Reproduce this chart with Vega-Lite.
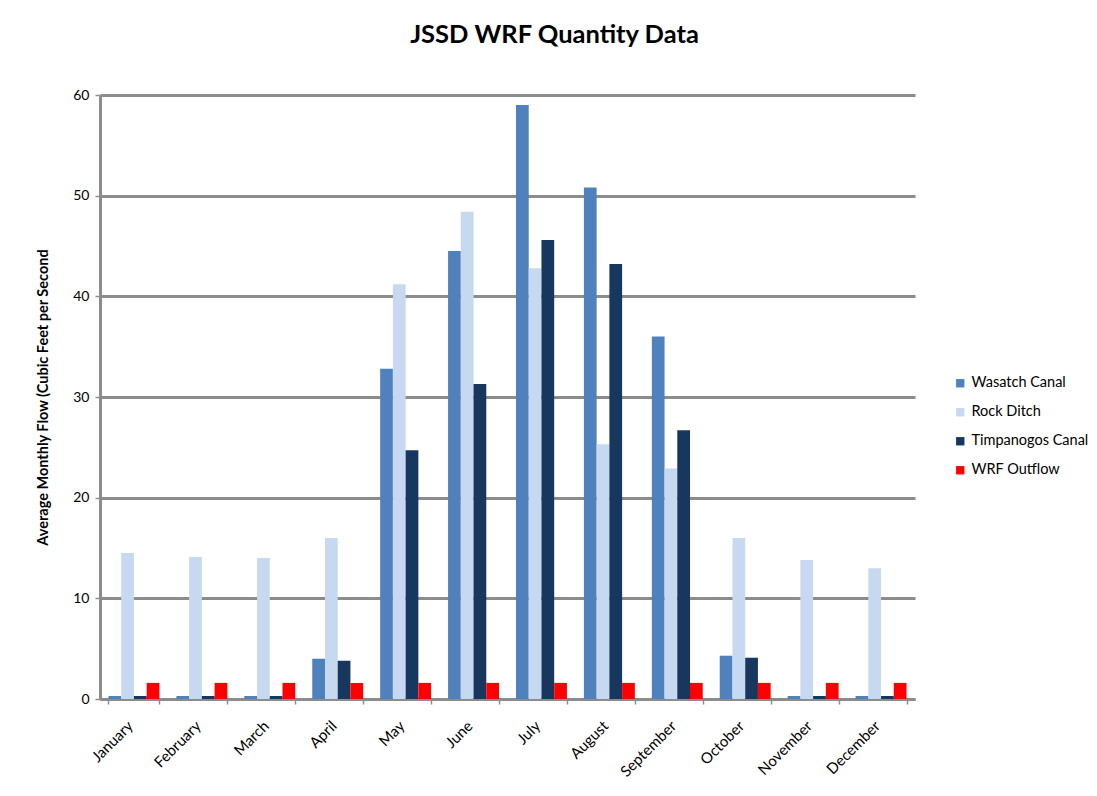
{
  "$schema": "https://vega.github.io/schema/vega-lite/v6.json",
  "autosize": "none",
  "width": 815,
  "height": 604,
  "padding": {"left": 100, "top": 95, "right": 182, "bottom": 97},
  "background": "white",
  "title": {
    "text": "JSSD WRF Quantity Data",
    "font": "Lato",
    "fontSize": 25.5,
    "fontWeight": "bold",
    "color": "#000000",
    "anchor": "middle",
    "dx": 47,
    "offset": 40
  },
  "data": {
    "values": [
      {"month": "January", "series": "Wasatch Canal", "flow": 0.3},
      {"month": "January", "series": "Rock Ditch", "flow": 14.5},
      {"month": "January", "series": "Timpanogos Canal", "flow": 0.3},
      {"month": "January", "series": "WRF Outflow", "flow": 1.6},
      {"month": "February", "series": "Wasatch Canal", "flow": 0.3},
      {"month": "February", "series": "Rock Ditch", "flow": 14.1},
      {"month": "February", "series": "Timpanogos Canal", "flow": 0.3},
      {"month": "February", "series": "WRF Outflow", "flow": 1.6},
      {"month": "March", "series": "Wasatch Canal", "flow": 0.3},
      {"month": "March", "series": "Rock Ditch", "flow": 14.0},
      {"month": "March", "series": "Timpanogos Canal", "flow": 0.3},
      {"month": "March", "series": "WRF Outflow", "flow": 1.6},
      {"month": "April", "series": "Wasatch Canal", "flow": 4.0},
      {"month": "April", "series": "Rock Ditch", "flow": 16.0},
      {"month": "April", "series": "Timpanogos Canal", "flow": 3.8},
      {"month": "April", "series": "WRF Outflow", "flow": 1.6},
      {"month": "May", "series": "Wasatch Canal", "flow": 32.8},
      {"month": "May", "series": "Rock Ditch", "flow": 41.2},
      {"month": "May", "series": "Timpanogos Canal", "flow": 24.7},
      {"month": "May", "series": "WRF Outflow", "flow": 1.6},
      {"month": "June", "series": "Wasatch Canal", "flow": 44.5},
      {"month": "June", "series": "Rock Ditch", "flow": 48.4},
      {"month": "June", "series": "Timpanogos Canal", "flow": 31.3},
      {"month": "June", "series": "WRF Outflow", "flow": 1.6},
      {"month": "July", "series": "Wasatch Canal", "flow": 59.0},
      {"month": "July", "series": "Rock Ditch", "flow": 42.8},
      {"month": "July", "series": "Timpanogos Canal", "flow": 45.6},
      {"month": "July", "series": "WRF Outflow", "flow": 1.6},
      {"month": "August", "series": "Wasatch Canal", "flow": 50.8},
      {"month": "August", "series": "Rock Ditch", "flow": 25.3},
      {"month": "August", "series": "Timpanogos Canal", "flow": 43.2},
      {"month": "August", "series": "WRF Outflow", "flow": 1.6},
      {"month": "September", "series": "Wasatch Canal", "flow": 36.0},
      {"month": "September", "series": "Rock Ditch", "flow": 22.9},
      {"month": "September", "series": "Timpanogos Canal", "flow": 26.7},
      {"month": "September", "series": "WRF Outflow", "flow": 1.6},
      {"month": "October", "series": "Wasatch Canal", "flow": 4.3},
      {"month": "October", "series": "Rock Ditch", "flow": 16.0},
      {"month": "October", "series": "Timpanogos Canal", "flow": 4.1},
      {"month": "October", "series": "WRF Outflow", "flow": 1.6},
      {"month": "November", "series": "Wasatch Canal", "flow": 0.3},
      {"month": "November", "series": "Rock Ditch", "flow": 13.8},
      {"month": "November", "series": "Timpanogos Canal", "flow": 0.3},
      {"month": "November", "series": "WRF Outflow", "flow": 1.6},
      {"month": "December", "series": "Wasatch Canal", "flow": 0.3},
      {"month": "December", "series": "Rock Ditch", "flow": 13.0},
      {"month": "December", "series": "Timpanogos Canal", "flow": 0.3},
      {"month": "December", "series": "WRF Outflow", "flow": 1.6}
    ]
  },
  "mark": {"type": "bar", "stroke": null},
  "encoding": {
    "x": {
      "field": "month",
      "type": "nominal",
      "sort": null,
      "scale": {"paddingInner": 0.25, "paddingOuter": 0.125},
      "axis": {
        "title": null,
        "labelAngle": -45,
        "labelAlign": "right",
        "labelBaseline": "middle",
        "labelFont": "Lato",
        "labelFontSize": 15,
        "labelColor": "#000000",
        "labelPadding": 19,
        "labelOffset": -4,
        "tickBand": "extent",
        "tickColor": "#8c8c8c",
        "tickSize": 5,
        "tickWidth": 1.5,
        "domainColor": "#8c8c8c",
        "domainWidth": 3
      }
    },
    "xOffset": {
      "field": "series",
      "type": "nominal",
      "sort": ["Wasatch Canal", "Rock Ditch", "Timpanogos Canal", "WRF Outflow"],
      "scale": {"paddingInner": 0, "paddingOuter": 0}
    },
    "y": {
      "field": "flow",
      "type": "quantitative",
      "scale": {"domain": [0, 60], "nice": false},
      "axis": {
        "title": "Average Monthly Flow (Cubic Feet per Second",
        "titleFont": "Lato",
        "titleFontSize": 14.5,
        "titleFontWeight": "bold",
        "titleColor": "#000000",
        "titlePadding": 22,
        "values": [0, 10, 20, 30, 40, 50, 60],
        "labelFont": "Lato",
        "labelFontSize": 14,
        "labelColor": "#000000",
        "labelPadding": 6,
        "tickColor": "#8c8c8c",
        "tickSize": 5,
        "tickWidth": 1.5,
        "domainColor": "#8c8c8c",
        "domainWidth": 3,
        "grid": true,
        "gridColor": "#8c8c8c",
        "gridWidth": 3
      }
    },
    "color": {
      "field": "series",
      "type": "nominal",
      "sort": ["Wasatch Canal", "Rock Ditch", "Timpanogos Canal", "WRF Outflow"],
      "scale": {
        "domain": ["Wasatch Canal", "Rock Ditch", "Timpanogos Canal", "WRF Outflow"],
        "range": ["#4f81bd", "#c6d9f1", "#17375e", "#ff0000"]
      },
      "legend": {
        "title": null,
        "orient": "none",
        "legendX": 853,
        "legendY": 281,
        "symbolType": "square",
        "symbolSize": 70,
        "symbolStrokeWidth": 0,
        "labelFont": "Lato",
        "labelFontSize": 14.5,
        "labelColor": "#000000",
        "rowPadding": 14,
        "labelOffset": 4
      }
    }
  },
  "config": {
    "view": {"stroke": null}
  }
}
